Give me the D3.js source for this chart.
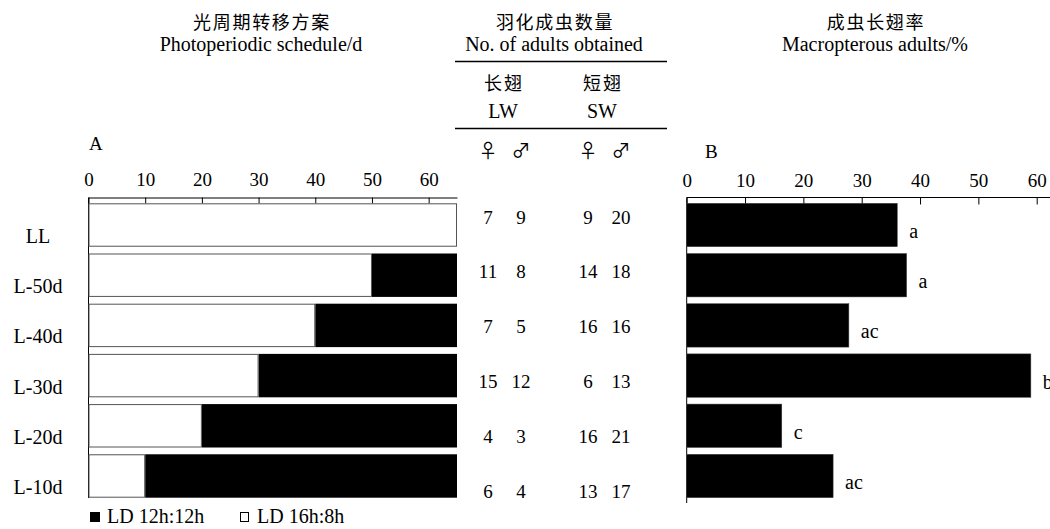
<!DOCTYPE html>
<html>
<head>
<meta charset="utf-8">
<script src="https://cdn.jsdelivr.net/npm/d3@7"></script>
<style>
body{margin:0;background:#fff}
svg{display:block}
text{font-family:"Liberation Serif","Times New Roman",serif;fill:#000}
.cn{font-family:"Noto Sans CJK SC",sans-serif;font-weight:400}
</style>
</head>
<body>
<div id="chart"></div>
<script>
const groups = ["LL","L-50d","L-40d","L-30d","L-20d","L-10d"]
const longDay = [65,50,40,30,20,10]      // LD 16h:8h days
const shortDay = [0,15,25,35,45,55]      // LD 12h:12h days
const lwFemale = [7,11,7,15,4,6]
const lwMale = [9,8,5,12,3,4]
const swFemale = [9,14,16,6,16,13]
const swMale = [20,18,16,13,21,17]
const macroPct = [36.1,37.7,27.8,59.0,16.3,25.1]
const sigLetters = ["a","a","ac","b","c","ac"]
const tickVals = [0,10,20,30,40,50,60]

const width=1050, height=529
const svg = d3.select("#chart").append("svg")
  .attr("width",width).attr("height",height)

const y = d3.scaleBand().domain(groups).range([203.3,497.7]).paddingInner(0.135)
const rowY = d3.scalePoint().domain(groups).range([217,491])
const xA = d3.scaleLinear().domain([0,65]).range([88.5,457])
const xB = d3.scaleLinear().domain([0,60]).range([686.7,1036.7])
const axisY = 197.5

// headers
function header(cx,cn,en){
  svg.append("text").attr("class","cn").attr("x",cx+1).attr("y",29)
    .attr("text-anchor","middle").attr("font-size",18).attr("letter-spacing",1.7)
    .text(cn)
  svg.append("text").attr("x",cx).attr("y",51).attr("text-anchor","middle")
    .attr("font-size",20).text(en)
}
header(261,"光周期转移方案","Photoperiodic schedule/d")
header(554,"羽化成虫数量","No. of adults obtained")
header(875,"成虫长翅率","Macropterous adults/%")

// panel A
const gA = svg.append("g")
gA.append("g").attr("transform",`translate(0,${axisY})`)
  .call(d3.axisTop(xA).tickValues(tickVals).tickSizeInner(-6).tickSizeOuter(0).tickPadding(12))
  .call(g=>g.select(".domain").attr("stroke","#000"))
  .call(g=>g.selectAll("text").attr("font-size",19).attr("font-family","Liberation Serif"))
gA.append("line").attr("x1",xA(0)).attr("x2",xA(0)).attr("y1",axisY).attr("y2",498).attr("stroke","#000")
gA.append("text").attr("x",89).attr("y",150).attr("font-size",19).text("A")

groups.forEach((g,i)=>{
  gA.append("rect").attr("x",xA(longDay[i])).attr("y",y(g))
    .attr("width",xA(longDay[i]+shortDay[i])-xA(longDay[i])).attr("height",y.bandwidth())
    .attr("fill","#000")
  gA.append("rect").attr("x",xA(0)+0.5).attr("y",y(g)+0.5)
    .attr("width",xA(longDay[i])-xA(0)-1).attr("height",y.bandwidth()-1)
    .attr("fill","#fff").attr("stroke","#555").attr("stroke-width",1)
  gA.append("text").attr("x",38).attr("y",y(g)+y.bandwidth()/2+11)
    .attr("text-anchor","middle").attr("dominant-baseline","central")
    .attr("font-size",20).text(g)
})

// legend
svg.append("rect").attr("x",90).attr("y",512).attr("width",10).attr("height",10).attr("fill","#000")
svg.append("text").attr("x",107).attr("y",523).attr("font-size",20).text("LD 12h:12h")
svg.append("rect").attr("x",240.5).attr("y",512.5).attr("width",8).attr("height",9).attr("fill","#fff").attr("stroke","#000")
svg.append("text").attr("x",257).attr("y",523).attr("font-size",20).text("LD 16h:8h")

// middle table
const gT = svg.append("g")
gT.append("line").attr("x1",455).attr("x2",667).attr("y1",61.5).attr("y2",61.5).attr("stroke","#000").attr("stroke-width",1.3)
gT.append("line").attr("x1",455).attr("x2",667).attr("y1",128.5).attr("y2",128.5).attr("stroke","#000").attr("stroke-width",1.3)
gT.append("text").attr("class","cn").attr("x",504).attr("y",90).attr("text-anchor","middle").attr("font-size",18).attr("letter-spacing",2).text("长翅")
gT.append("text").attr("class","cn").attr("x",603).attr("y",90).attr("text-anchor","middle").attr("font-size",18).attr("letter-spacing",2).text("短翅")
gT.append("text").attr("x",503).attr("y",118).attr("text-anchor","middle").attr("font-size",20).text("LW")
gT.append("text").attr("x",602).attr("y",118).attr("text-anchor","middle").attr("font-size",20).text("SW")
const colX = [488,521,588,621]
const sexSym = ["♀","♂","♀","♂"]
sexSym.forEach((s,j)=>{
  gT.append("text").attr("class","cn").attr("x",colX[j]).attr("y",149).attr("text-anchor","middle")
    .attr("dominant-baseline","central").attr("font-size",19).text(s)
})
const cols = [lwFemale,lwMale,swFemale,swMale]
cols.forEach((arr,j)=>{
  gT.selectAll(null).data(groups).enter().append("text")
    .attr("x",colX[j]).attr("y",g=>rowY(g)).attr("dominant-baseline","central")
    .attr("text-anchor","middle").attr("font-size",19)
    .text((g,i)=>arr[i])
})

// panel B
const gB = svg.append("g")
gB.append("g").attr("transform",`translate(0,${axisY})`)
  .call(d3.axisTop(xB).tickValues(tickVals).tickSizeInner(-7).tickSizeOuter(0).tickPadding(11))
  .call(g=>g.select(".domain").attr("d",`M${xB(0)},0H${width}`).attr("stroke","#000"))
  .call(g=>g.selectAll("text").attr("font-size",19).attr("font-family","Liberation Serif"))
gB.append("line").attr("x1",xB(0)).attr("x2",xB(0)).attr("y1",axisY).attr("y2",503).attr("stroke","#000")
gB.append("text").attr("x",705).attr("y",158).attr("font-size",19).text("B")

gB.selectAll("rect.bar").data(groups).enter().append("rect").attr("class","bar")
  .attr("x",xB(0)).attr("y",g=>y(g))
  .attr("width",(g,i)=>xB(macroPct[i])-xB(0)).attr("height",y.bandwidth())
  .attr("fill","#000").attr("stroke","#444").attr("stroke-width",0.5)
gB.selectAll("text.sig").data(groups).enter().append("text").attr("class","sig")
  .attr("x",(g,i)=>xB(macroPct[i])+12).attr("y",g=>y(g)+y.bandwidth()/2+6)
  .attr("dominant-baseline","central").attr("font-size",20)
  .text((g,i)=>sigLetters[i])
</script>
</body>
</html>
